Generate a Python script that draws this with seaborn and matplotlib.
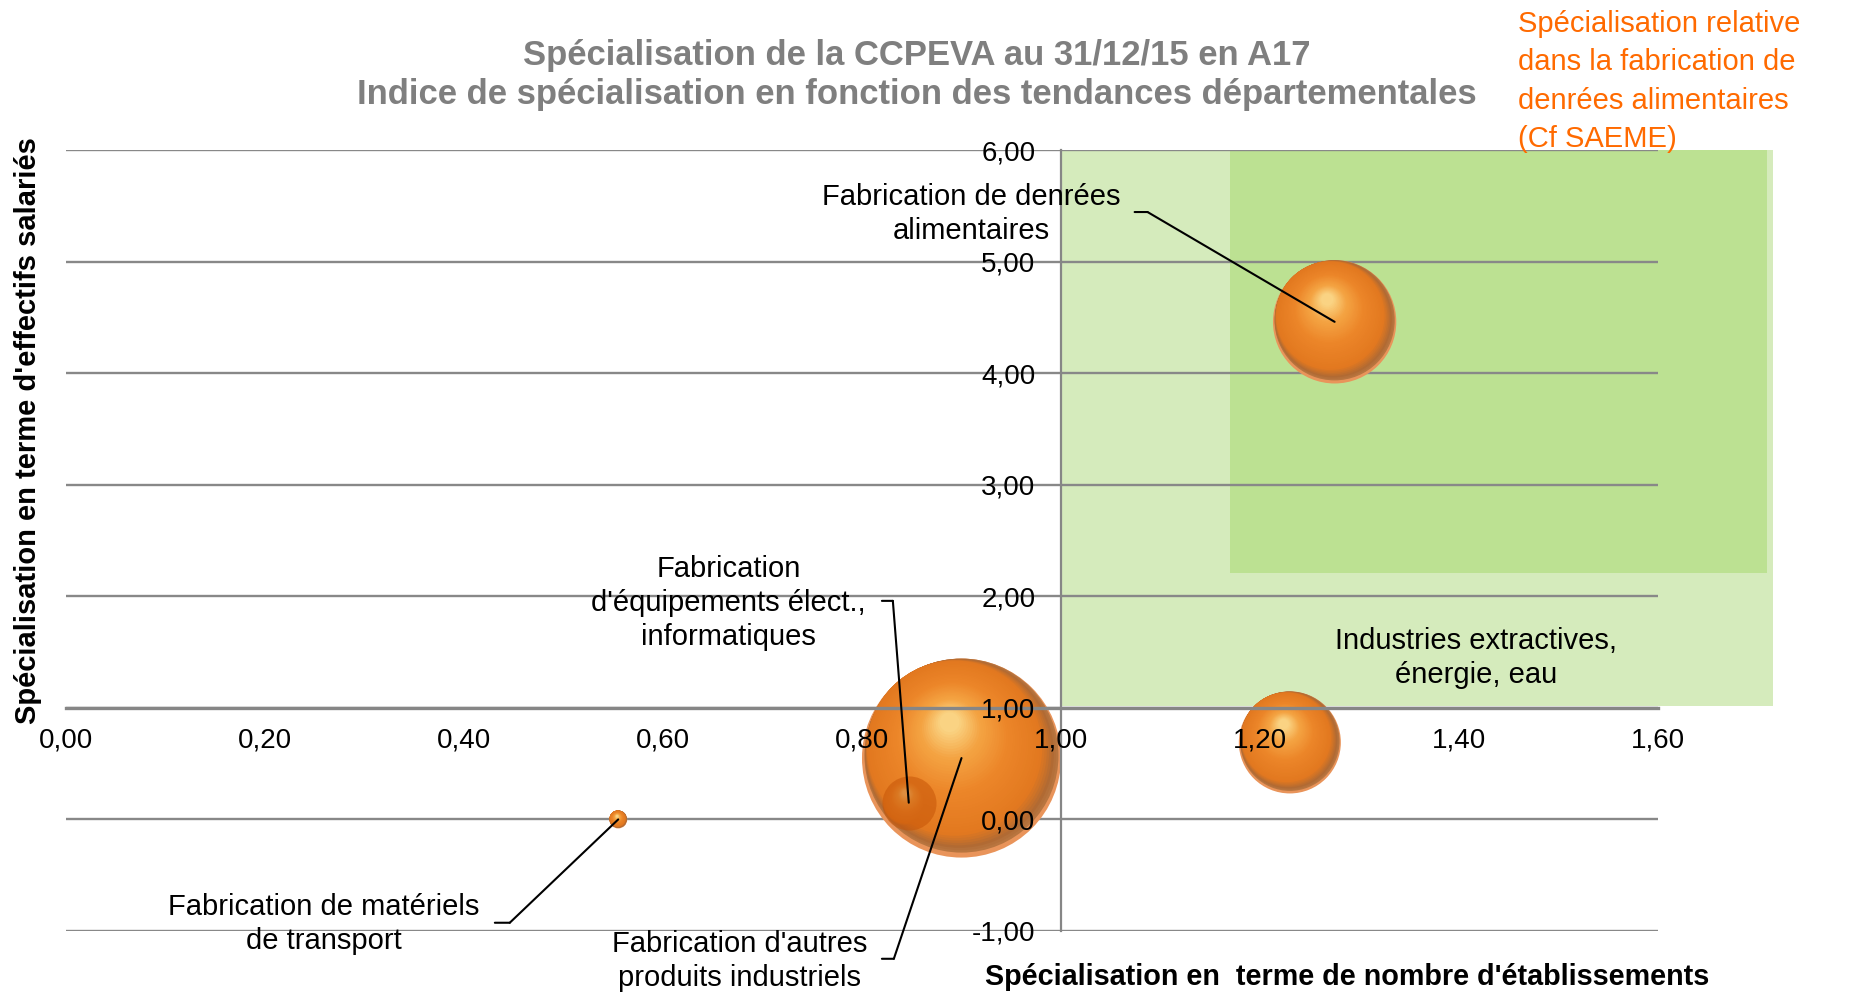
import numpy as np
import pandas as pd
import matplotlib
matplotlib.use("Agg")
import matplotlib.pyplot as plt
from matplotlib.patches import Rectangle
from matplotlib.colors import LinearSegmentedColormap
from matplotlib.ticker import FuncFormatter
import seaborn as sns

# ---------------- data ----------------
secteurs = [
    "Fabrication de denrées\nalimentaires",
    "Industries extractives,\nénergie, eau",
    "Fabrication d'autres\nproduits industriels",
    "Fabrication\nd'équipements élect.,\ninformatiques",
    "Fabrication de matériels\nde transport",
]
indice_etablissements = [1.275, 1.23, 0.90, 0.847, 0.555]
indice_salaries = [4.46, 0.69, 0.55, 0.15, 0.00]
poids_bulle = [380, 260, 990, 73, 8]

x_ticks = [0.0, 0.2, 0.4, 0.6, 0.8, 1.0, 1.2, 1.4, 1.6]
y_ticks = [-1, 0, 1, 2, 3, 4, 5, 6]

titre_1 = "Spécialisation de la CCPEVA au 31/12/15 en A17"
titre_2 = "Indice de spécialisation en fonction des tendances départementales"
note_orange = "Spécialisation relative\ndans la fabrication de\ndenrées alimentaires\n(Cf SAEME)"
label_x_axe = "Spécialisation en  terme de nombre d'établissements"
label_y_axe = "Spécialisation en terme d'effectifs salariés"

# ---------------- layout (label placement, zones) ----------------
label_pos = [(0.910, 5.43), (1.417, 1.45), (0.677, -1.27), (0.666, 1.94), (0.259, -0.94)]
leader_stub = [((1.074, 5.444), (1.087, 5.444)),
               None,
               ((0.820, -1.249), (0.832, -1.249)),
               ((0.820, 1.959), (0.831, 1.959)),
               ((0.431, -0.926), (0.446, -0.926))]
zone_claire = (1.0, 1.017, 1.716, 6.0)
zone_foncee = (1.170, 2.21, 1.710, 6.0)

sns.set_theme(style="white")
plt.rcParams["font.family"] = ["Liberation Sans", "DejaVu Sans"]

W, H, DPI = 1850, 993, 100
fig = plt.figure(figsize=(W / DPI, H / DPI), dpi=DPI)
fig.patch.set_facecolor("white")
ax = fig.add_axes([66 / W, 1 - 931 / H, (1658 - 66) / W, (931 - 150) / H])
ax.set_facecolor("none")
ax.set_xlim(0, 1.6)
ax.set_ylim(-1, 6)

# green zones
for (x0, y0, x1, y1), col in [(zone_claire, "#D5EBBC"), (zone_foncee, "#BCE192")]:
    ax.add_patch(Rectangle((x0, y0), x1 - x0, y1 - y0, facecolor=col,
                           edgecolor="none", zorder=0.2, clip_on=False))

# gridlines
grid_col = "#888888"
for yv in y_ticks:
    ax.axhline(yv, color=grid_col, lw=1.7, zorder=0.6)

# bubbles (base layer: soft light bottom rim)
df = pd.DataFrame({"secteur": secteurs, "etab": indice_etablissements,
                   "sal": indice_salaries, "poids": poids_bulle})
sns.scatterplot(data=df, x="etab", y="sal", size="poids", sizes=(168, 20535),
                color="#E9945A", linewidth=0, legend=False, ax=ax, zorder=2,
                clip_on=False)
coll = ax.collections[-1]
sizes = np.asarray(coll.get_sizes())
offs = np.asarray(coll.get_offsets())
disp_c = ax.transData.transform(offs)
r_px = np.sqrt(sizes) * DPI / 72 / 2
inv = ax.transData.inverted()


def layer(f, dx, dy, color, z):
    shift = np.column_stack([dx * r_px, dy * r_px])
    c = inv.transform(disp_c + shift)
    ax.scatter(c[:, 0], c[:, 1], s=sizes * f ** 2, color=color, linewidths=0,
               zorder=z, clip_on=False)


# continuous shading: dark crescent lower-right -> orange body -> highlight
cmap = LinearSegmentedColormap.from_list(
    "sphere", [(0.0, "#B8753F"), (0.04, "#B06A34"), (0.16, "#E2781F"),
               (0.5, "#EC8629"), (0.78, "#F4A443"), (1.0, "#FAD383")])
knots_t = [0.0, 0.16, 1.0]
knots_f = [0.975, 0.88, 0.10]
knots_dx = [0.0, -0.07, -0.12]
knots_dy = [0.025, 0.10, 0.36]
n_layers = 45
for k in range(n_layers):
    t = k / (n_layers - 1)
    f = np.interp(t, knots_t, knots_f)
    dx = np.interp(t, knots_t, knots_dx)
    dy = np.interp(t, knots_t, knots_dy)
    layer(f, dx, dy, cmap(t), 2.01 + k * 0.005)

# small bubble sitting inside the big one (darker, translucent)
i_eq = 3
ax.scatter([indice_etablissements[i_eq]], [indice_salaries[i_eq]], s=[sizes[i_eq]],
           color="#C65508", alpha=0.55, linewidths=0, zorder=2.45)

# axes / spines
for side in ["top", "right"]:
    ax.spines[side].set_visible(False)
ax.spines["left"].set_position(("data", 1.0))
ax.spines["bottom"].set_position(("data", 1.0))
ax.spines["left"].set_color("#868686")
ax.spines["left"].set_linewidth(1.6)
ax.spines["bottom"].set_color("#868686")
ax.spines["bottom"].set_linewidth(2.4)
ax.spines["left"].set_zorder(2.5)
ax.spines["bottom"].set_zorder(2.5)
ax.xaxis.set_zorder(5)
ax.yaxis.set_zorder(5)

fmt = FuncFormatter(lambda v, p: f"{v:.2f}".replace(".", ","))
ax.set_xticks(x_ticks)
ax.set_yticks(y_ticks)
ax.xaxis.set_major_formatter(fmt)
ax.yaxis.set_major_formatter(fmt)
ax.tick_params(axis="x", direction="out", length=5, width=1.4, color="#868686",
               pad=9, labelsize=20, labelcolor="black")
ax.tick_params(axis="y", length=0, pad=18.5, labelsize=20, labelcolor="black")
ax.set_xlabel("")
ax.set_ylabel("")
ax.grid(False)

# data labels + leader lines
for i, lab in enumerate(secteurs):
    lx, ly = label_pos[i]
    ax.text(lx, ly, lab, ha="center", va="center", fontsize=21, color="black",
            linespacing=1.28, zorder=6, clip_on=False)
    stub = leader_stub[i]
    if stub is not None:
        (sx0, sy0), (sx1, sy1) = stub
        ax.annotate("", xy=(sx1, sy1), xytext=(sx0, sy0), annotation_clip=False,
                    arrowprops=dict(arrowstyle="-", lw=1.5, color="black",
                                    shrinkA=0, shrinkB=0), zorder=6)
        ax.annotate("", xy=(indice_etablissements[i], indice_salaries[i]),
                    xytext=(sx1, sy1), annotation_clip=False,
                    arrowprops=dict(arrowstyle="-", lw=1.5, color="black",
                                    shrinkA=0, shrinkB=0), zorder=6)

# titles & annotations
fig.text(917 / W, 1 - 65 / H, titre_1, ha="center", va="baseline", fontsize=24.9,
         fontweight="bold", color="#7F7F7F")
fig.text(917 / W, 1 - 104 / H, titre_2, ha="center", va="baseline", fontsize=24.9,
         fontweight="bold", color="#7F7F7F")
fig.text(1518 / W, 1 - 10 / H, note_orange, ha="left", va="top", fontsize=21,
         color="#FF6A00", linespacing=1.47)
fig.text(1347 / W, 1 - 977 / H, label_x_axe, ha="center", va="center", fontsize=20.7,
         fontweight="bold", color="black")
fig.text(28 / W, 1 - 431 / H, label_y_axe, ha="center", va="center", fontsize=21,
         fontweight="bold", color="black", rotation=90)

fig.savefig("out.png", dpi=DPI)
